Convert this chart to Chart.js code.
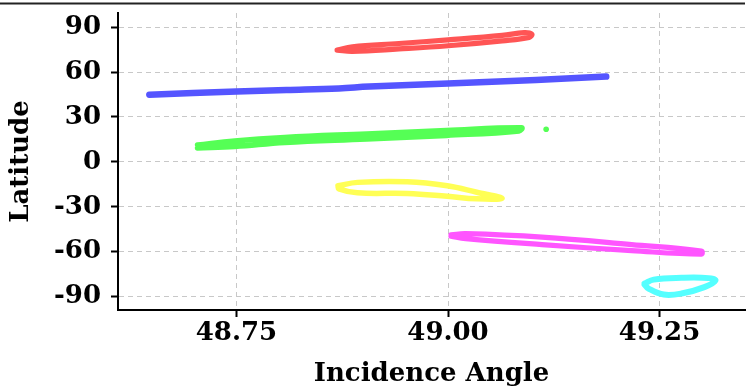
<!DOCTYPE html>
<html><head><meta charset="utf-8">
<script src="https://cdn.jsdelivr.net/npm/chart.js@4/dist/chart.umd.min.js"></script>
<style>html,body{margin:0;padding:0;background:#fff}#wrap{width:749px;height:390px;position:relative}</style>
</head><body><div id="wrap"><canvas id="c" width="749" height="390"></canvas></div>
<script>
// Tick values
const xTicks = [48.75, 49.00, 49.25];
const yTicks = [-90, -60, -30, 0, 30, 60, 90];

// Red loop
const redAngle = [48.869, 48.887, 48.942, 49.000, 49.064, 49.090, 49.099, 49.096, 49.064, 49.000, 48.942, 48.887, 48.869];
const redLat   = [74.7, 76.9, 79.1, 81.5, 84.5, 86.4, 85.3, 83.2, 80.9, 77.6, 75.5, 73.9, 74.7];
// Blue band
const blueAngle = [48.647, 48.750, 48.809, 48.871, 48.907, 49.000, 49.104, 49.187];
const blueLat   = [44.9, 47.0, 48.0, 49.1, 50.3, 52.4, 54.7, 57.0];
// Green loop
const greenAngle = [48.704, 48.748, 48.807, 48.904, 48.998, 49.087, 49.084, 48.998, 48.904, 48.807, 48.748, 48.704];
const greenLat   = [11.3, 14.0, 16.3, 18.7, 21.0, 22.8, 20.7, 17.7, 15.3, 13.0, 10.3, 9.3];
const greenDotAngle = [49.116];
const greenDotLat   = [21.8];
// Yellow loop
const yellowAngle = [48.870, 48.893, 48.952, 48.999, 49.034, 49.064, 49.034, 48.999, 48.952, 48.893, 48.871, 48.870];
const yellowLat   = [-16.0, -13.7, -13.3, -16.0, -20.3, -24.3, -24.7, -23.0, -21.1, -20.7, -18.0, -16.0];
// Magenta loop
const magentaAngle = [49.0035, 49.021, 49.111, 49.217, 49.2995, 49.2995, 49.217, 49.111, 49.021, 49.0035];
const magentaLat   = [-48.7, -48.0, -50.3, -55.3, -59.7, -61.7, -59.3, -55.3, -51.3, -49.7];
// Cyan loop
const cyanAngle = [49.2323, 49.243, 49.276, 49.308, 49.316, 49.303, 49.276, 49.255, 49.237, 49.2323];
const cyanLat   = [-81.3, -78.7, -77.5, -77.7, -79.3, -83.7, -88.0, -88.7, -84.7, -82.0];

const pts = (xs, ys) => xs.map((x, i) => ({x, y: ys[i]}));
function loop(xs, ys, color, w) {
  return {data: pts(xs, ys), showLine: true, borderColor: color, backgroundColor: color,
    borderWidth: w, pointRadius: 0, tension: 0.4, borderCapStyle: 'round', borderJoinStyle: 'round'};
}
const datasets = [
  loop(redAngle, redLat, '#ff5555', 5.2),
  loop(blueAngle, blueLat, '#5555ff', 6.5),
  loop(greenAngle, greenLat, '#55ff55', 5.5),
  {data: pts(greenDotAngle, greenDotLat), showLine: false, pointRadius: 2.8, borderWidth: 0, backgroundColor: '#55ff55'},
  loop(yellowAngle, yellowLat, '#ffff55', 5.5),
  loop(magentaAngle, magentaLat, '#ff55ff', 5.2),
  loop(cyanAngle, cyanLat, '#55ffff', 6)
];

const tickFont = {family: 'DejaVu Serif', weight: 'bold', size: 26};
const titleFont = {family: 'DejaVu Serif', weight: 'bold', size: 26};

const topLine = {
  id: 'topLine',
  afterDraw(chart) {
    const c = chart.ctx;
    c.save();
    c.strokeStyle = '#222';
    c.lineWidth = 2;
    c.beginPath();
    c.moveTo(0, 3.5);
    c.lineTo(chart.chartArea.right, 3.5);
    c.stroke();
    c.restore();
  }
};

function noPad(s) { s.paddingTop = 0; s.paddingBottom = 0; s.paddingLeft = 0; s.paddingRight = 0; }

new Chart(document.getElementById('c'), {
  type: 'scatter',
  data: {datasets},
  plugins: [topLine],
  options: {
    responsive: false,
    animation: false,
    layout: {padding: {top: 13, right: 2, left: 0, bottom: 0}},
    plugins: {legend: {display: false}, tooltip: {enabled: false}},
    scales: {
      x: {
        type: 'linear', min: 48.61, max: 49.351,
        afterBuildTicks: s => { s.ticks = xTicks.map(v => ({value: v})); },
        afterFit: s => { s.height = 80; noPad(s); },
        ticks: {callback: v => Number(v).toFixed(2), font: tickFont, color: '#000', padding: 1, maxRotation: 0, autoSkip: false},
        grid: {color: '#c8c8c8', lineWidth: 1, tickColor: '#000', tickLength: 7, tickWidth: 2, tickBorderDash: []},
        border: {color: '#000', width: 2, dash: [5, 4]},
        title: {display: true, text: 'Incidence Angle', font: titleFont, color: '#000', padding: {top: 2, bottom: 0}}
      },
      y: {
        type: 'linear', min: -99, max: 99.5,
        afterBuildTicks: s => { s.ticks = yTicks.map(v => ({value: v})); },
        afterFit: s => { s.width = 118; noPad(s); },
        ticks: {font: tickFont, color: '#000', padding: 10, autoSkip: false},
        grid: {color: '#c8c8c8', lineWidth: 1, tickColor: '#000', tickLength: 7, tickWidth: 2, tickBorderDash: []},
        border: {color: '#000', width: 2, dash: [5, 4]},
        title: {display: true, text: 'Latitude', font: titleFont, color: '#000', padding: {top: 6, bottom: 0}}
      }
    }
  }
});
</script>
</body></html>
